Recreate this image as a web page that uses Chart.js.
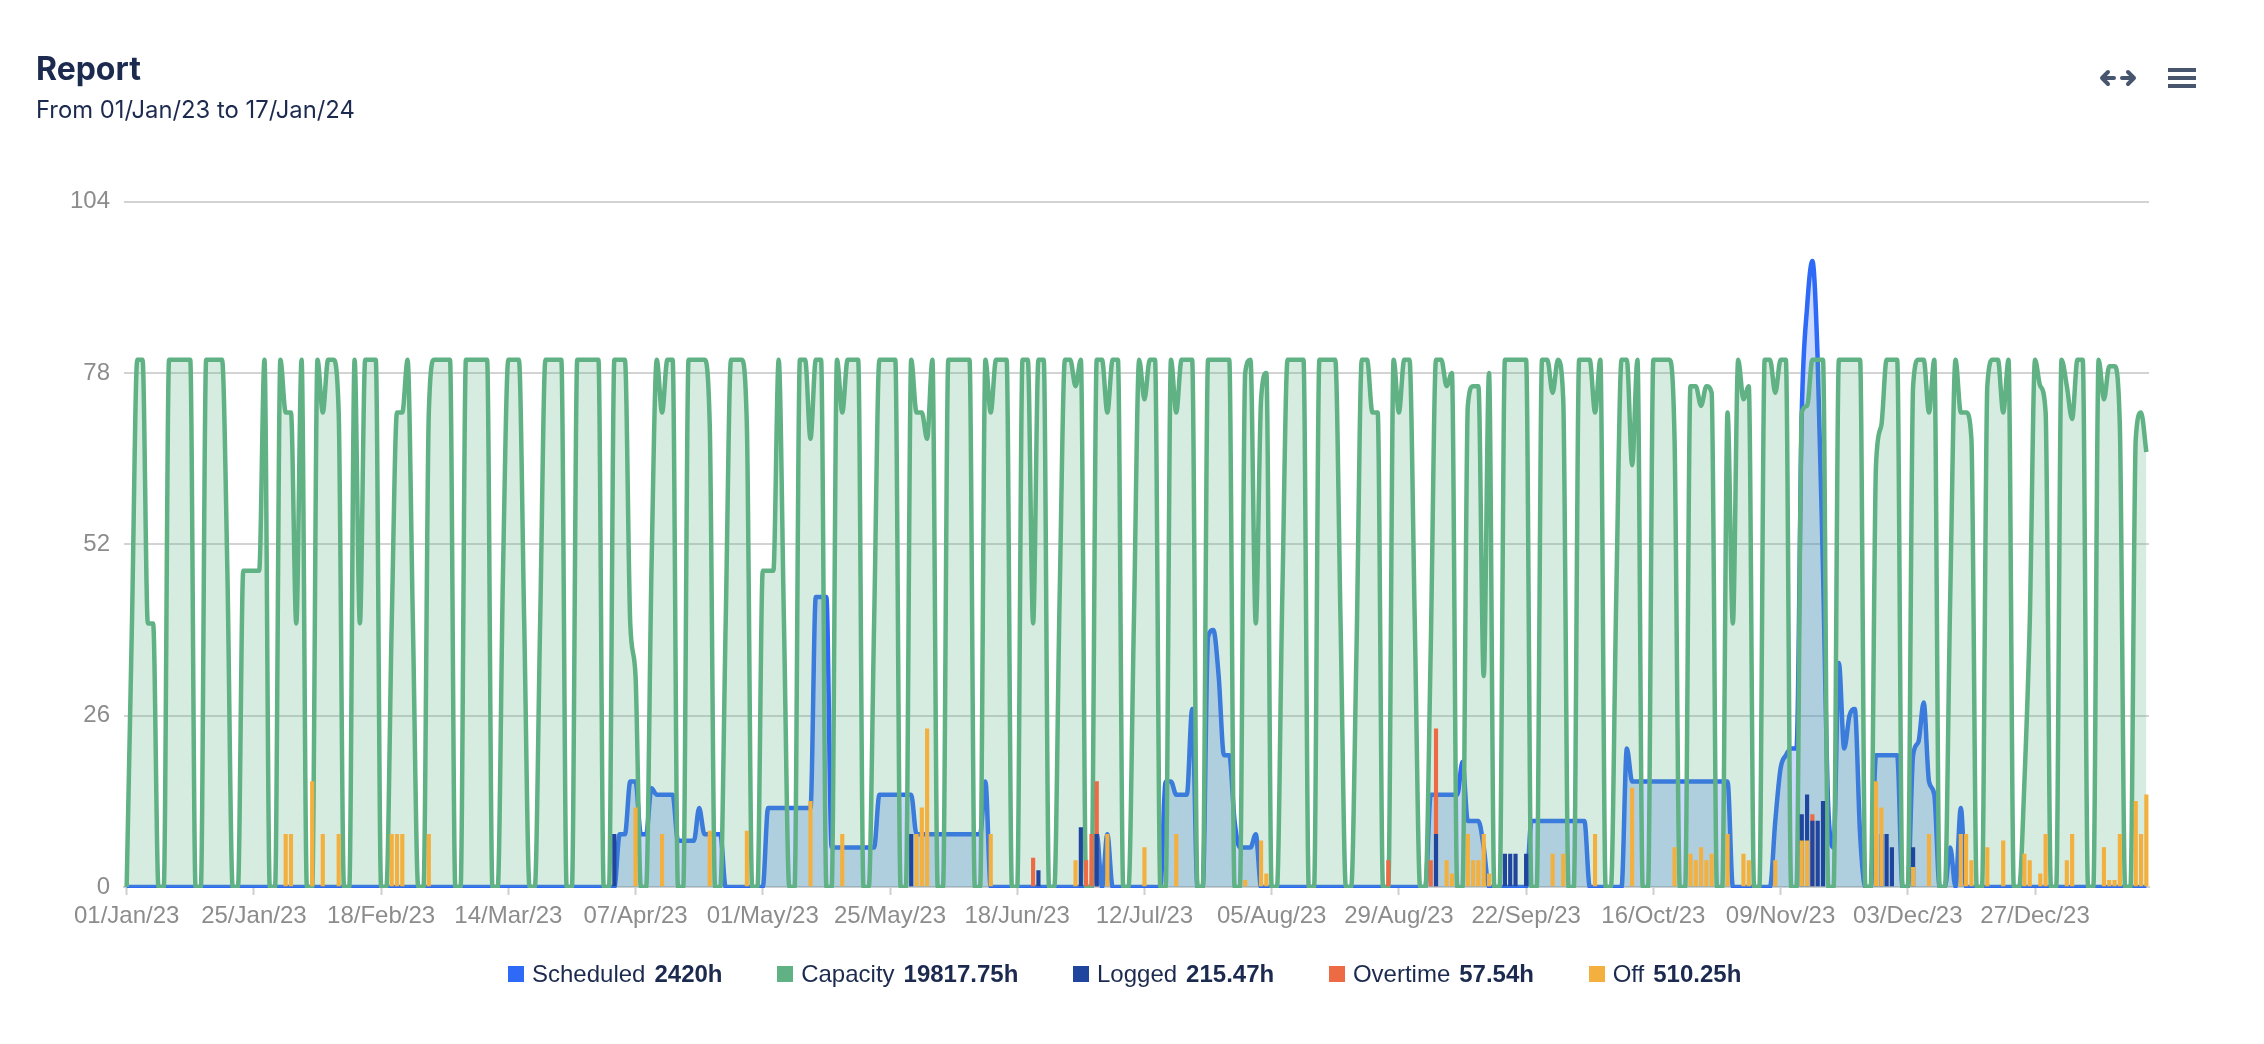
<!DOCTYPE html>
<html>
<head>
<meta charset="utf-8">
<title>Report</title>
<script src="https://cdn.jsdelivr.net/npm/chart.js@4"></script>
<style>
  html, body { margin: 0; padding: 0; background: #fff; }
  body { position: relative; width: 2264px; height: 1044px; overflow: hidden; }
  canvas { position: absolute; left: 0; top: 0; }
  .title { position: absolute; left: 36px; top: 50px; font: 700 32px/38px Inter, sans-serif; color: #1b2a4e; }
  .subtitle { position: absolute; left: 36px; top: 96px; font: 400 23.8px/28px Inter, sans-serif; color: #1b2a4e; }
  .icons { position: absolute; left: 2090px; top: 60px; }
  #legend { position: absolute; left: 508px; top: 958px; display: flex; gap: 54.7px; font: 24px/32px "Liberation Sans", sans-serif; color: #1b2a4e; white-space: nowrap; }
  #legend .item { display: flex; align-items: center; }
  #legend .swatch { width: 16px; height: 16px; margin-right: 8px; }
  #legend b { margin-left: 9px; }
</style>
</head>
<body>
<canvas id="reportChart" width="2264" height="1044"></canvas>
<div class="title">Report</div>
<div class="subtitle">From 01/Jan/23 to 17/Jan/24</div>
<svg class="icons" width="116" height="36" viewBox="0 0 116 36" fill="none">
  <path d="M18 12 L12 18 L18 24 M12 18 H24 M38 12 L44 18 L38 24 M44 18 H32" stroke="#47556f" stroke-width="4" stroke-linecap="round" stroke-linejoin="round"/>
  <path d="M78 10 H106 M78 18 H106 M78 26 H106" stroke="#47556f" stroke-width="4"/>
</svg>
<div id="legend"></div>

<script>
const tickLabels = ['01/Jan/23', '25/Jan/23', '18/Feb/23', '14/Mar/23', '07/Apr/23', '01/May/23', '25/May/23', '18/Jun/23',
  '12/Jul/23', '05/Aug/23', '29/Aug/23', '22/Sep/23', '16/Oct/23', '09/Nov/23', '03/Dec/23', '27/Dec/23'];

// one row per week, starting on Sunday 01/Jan/23
const capacity = [
  0,40,80,80,40,40,0, 0,80,80,80,80,80,0, 0,80,80,80,80,48,0, 0,48,48,48,48,80,0,
  0,80,72,72,40,80,0, 0,80,72,80,80,72,0, 0,80,40,80,80,80,0, 0,40,72,72,80,40,0,
  0,72,80,80,80,80,0, 0,80,80,80,80,80,0, 0,48,80,80,80,40,0, 0,40,80,80,80,80,0,
  0,80,80,80,80,80,0, 0,80,80,80,40,32,0, 0,48,80,72,80,80,0, 0,80,80,80,80,70,0,
  0,40,80,80,80,70,0, 0,48,48,48,80,40,0, 0,80,80,68,80,80,0, 0,80,72,80,80,80,0,
  0,40,80,80,80,80,0, 0,80,72,72,68,80,0, 0,80,80,80,80,80,0, 0,80,72,80,80,80,0,
  0,80,80,40,80,80,0, 0,44,80,80,76,80,0, 0,80,80,72,80,80,0, 0,40,80,74,80,80,0,
  0,80,72,80,80,80,0, 0,80,80,80,80,80,0, 0,78,80,40,74,78,0, 0,44,80,80,80,80,0,
  0,80,80,80,80,40,0, 0,36,80,80,72,72,0, 0,80,72,80,80,40,0, 0,36,80,80,76,78,0,
  0,73,76,76,32,78,0, 0,80,80,80,80,80,0, 0,80,80,75,80,74,0, 0,80,80,80,72,80,0,
  0,44,80,80,64,80,0, 0,80,80,80,80,68,0, 0,76,76,73,76,75,0, 0,72,40,80,74,76,0,
  0,80,80,75,80,80,0, 0,72,73,80,80,80,0, 0,80,80,80,80,80,0, 0,64,70,80,80,80,0,
  0,76,80,80,72,80,0, 0,44,80,72,72,68,0, 0,76,80,80,72,80,0, 0,16,40,80,76,72,0,
  0,80,76,71,80,80,0, 0,80,74,79,79,70,0, 0,68,72,66
];

const scheduled = [
  0,0,0,0,0,0,0, 0,0,0,0,0,0,0, 0,0,0,0,0,0,0, 0,0,0,0,0,0,0,
  0,0,0,0,0,0,0, 0,0,0,0,0,0,0, 0,0,0,0,0,0,0, 0,0,0,0,0,0,0,
  0,0,0,0,0,0,0, 0,0,0,0,0,0,0, 0,0,0,0,0,0,0, 0,0,0,0,0,0,0,
  0,0,0,0,0,0,0, 0,0,8,8,16,16,8, 8,15,14,14,14,14,7, 7,7,7,12,8,8,8,
  8,0,0,0,0,0,0, 0,0,12,12,12,12,12, 12,12,12,12,44,44,44, 6,6,6,6,6,6,6,
  6,6,14,14,14,14,14, 14,14,8,8,8,8,8, 8,8,8,8,8,8,8, 8,16,0,0,0,0,0,
  0,0,0,0,0,0,0, 0,0,0,0,0,0,0, 0,8,0,8,0,0,0, 0,0,0,0,0,0,0,
  16,16,14,14,14,27,0, 0,38,39,32,20,20,10, 6,6,6,8,0,0,0, 0,0,0,0,0,0,0,
  0,0,0,0,0,0,0, 0,0,0,0,0,0,0, 0,0,0,0,0,0,0, 0,14,14,14,14,14,14,
  19,10,10,10,6,0,0, 0,0,0,0,0,0,10, 10,10,10,10,10,10,10, 10,10,10,0,0,0,0,
  0,0,0,21,16,16,16, 16,16,16,16,16,16,16, 16,16,16,16,16,16,16, 16,16,0,0,0,0,0,
  0,0,0,10,18,20,21, 21,72,88,95,80,48,12, 6,34,21,26,27,8,0, 0,20,20,20,20,20,0,
  0,20,22,28,16,14,0, 0,6,0,12,0,0,0, 0,0,0,0,0,0,0, 0,0,0,0,0,0,0,
  0,0,0,0,0,0,0, 0,0,0,0,0,0,0, 0,0,0,0
];

const loggedDays = [92, 148, 172, 180, 183, 247, 260, 261, 262, 264, 316, 317, 318, 319, 320, 330, 331, 332, 333, 337];
const loggedHours = [8, 8, 2.5, 9, 8, 8, 5, 5, 5, 5, 11, 14, 10, 10, 13, 8, 8, 8, 6, 6];

const overtimeDays = [171, 181, 182, 183, 238, 246, 247, 318];
const overtimeHours = [4.4, 4, 8, 16, 4, 4, 24, 11];

const offDays = [30, 31, 35, 37, 40, 50, 51, 52, 57, 96, 101, 110, 117, 129, 135, 149, 150, 151, 163, 179, 185, 192, 198,
  211, 214, 215, 249, 250, 253, 254, 255, 256, 257, 269, 271, 277, 284, 292, 295, 296, 297, 298, 299, 302, 305, 306, 311,
  316, 317, 330, 331, 337, 340, 346, 347, 348, 351, 354, 358, 359, 361, 362, 366, 367, 373, 374, 375, 376, 379, 380, 381];
const offHours = [8, 8, 16, 8, 8, 8, 8, 8, 8, 12, 8, 8.5, 8.5, 13, 8, 8, 12, 24, 8, 4, 8, 6, 8,
  1, 7, 2, 4, 2, 8, 4, 4, 8, 2, 5, 5, 8, 15, 6, 5, 4, 6, 4, 5, 8, 5, 4, 4,
  7, 7, 16, 12, 3, 8, 8, 8, 4, 6, 7, 5, 4, 2, 8, 4, 8, 6, 1, 1, 8, 13, 8, 14];

const legendNames = ['Scheduled', 'Capacity', 'Logged', 'Overtime', 'Off'];
const legendTotals = ['2420h', '19817.75h', '215.47h', '57.54h', '510.25h'];
const colors = ['#2e69f8', '#60b285', '#1f459f', '#ec6a44', '#f3b03f'];

const labels = capacity.map((v, i) => (i % 24 === 0 ? tickLabels[i / 24] : ''));

function barSeries(days, hours) {
  const out = capacity.map(() => null);
  days.forEach((d, i) => { out[d] = hours[i]; });
  return out;
}

function lineDataset(label, data, color, fill, order) {
  return {
    type: 'line',
    label,
    data,
    order,
    borderColor: color,
    backgroundColor: fill,
    borderWidth: 4.5,
    borderJoinStyle: 'round',
    fill: 'origin',
    pointRadius: 0,
    cubicInterpolationMode: 'monotone',
    clip: { left: 0, top: 0, right: 0, bottom: 1 }
  };
}

function barDataset(label, data, color, order) {
  return { type: 'bar', label, data, order, backgroundColor: color, barThickness: 3.5, grouped: false };
}

const ctx = document.getElementById('reportChart').getContext('2d');

new Chart(ctx, {
  data: {
    labels,
    datasets: [
      barDataset('Off', barSeries(offDays, offHours), colors[4], 1),
      barDataset('Logged', barSeries(loggedDays, loggedHours), colors[2], 2),
      barDataset('Overtime', barSeries(overtimeDays, overtimeHours), colors[3], 3),
      lineDataset('Capacity', capacity, colors[1], 'rgba(96, 178, 133, 0.25)', 4),
      lineDataset('Scheduled', scheduled, colors[0], 'rgba(46, 105, 248, 0.25)', 5)
    ]
  },
  options: {
    responsive: false,
    animation: false,
    layout: { padding: { left: 0, right: 115, top: 201.6, bottom: 0 } },
    plugins: { legend: { display: false }, title: { display: false }, tooltip: { enabled: false } },
    scales: {
      x: {
        type: 'category',
        offset: true,
        afterBuildTicks: scale => { scale.ticks = scale.ticks.filter(t => t.value % 24 === 0); },
        afterFit: scale => { scale.height = 157; },
        grid: { offset: false, drawOnChartArea: false, tickLength: 8, tickColor: '#cfcfcf', tickWidth: 2 },
        border: { color: '#cfcfcf', width: 2 },
        ticks: {
          autoSkip: false,
          maxRotation: 0,
          padding: 7,
          color: '#8c8c8c',
          font: { family: '"Liberation Sans"', size: 24 }
        }
      },
      y: {
        min: 0,
        max: 104,
        afterFit: scale => { scale.width = 124; },
        afterBuildTicks: scale => { scale.ticks = [0, 26, 52, 78, 104].map(value => ({ value })); },
        grid: { color: '#d3d3d3', lineWidth: 2, drawTicks: false },
        border: { display: false },
        ticks: {
          padding: 14,
          color: '#8c8c8c',
          font: { family: '"Liberation Sans"', size: 24 }
        }
      }
    }
  }
});

const legend = document.getElementById('legend');
legendNames.forEach((name, i) => {
  const item = document.createElement('div');
  item.className = 'item';
  item.innerHTML = `<span class="swatch" style="background:${colors[i]}"></span>${name}<b>${legendTotals[i]}</b>`;
  legend.appendChild(item);
});
</script>
</body>
</html>
